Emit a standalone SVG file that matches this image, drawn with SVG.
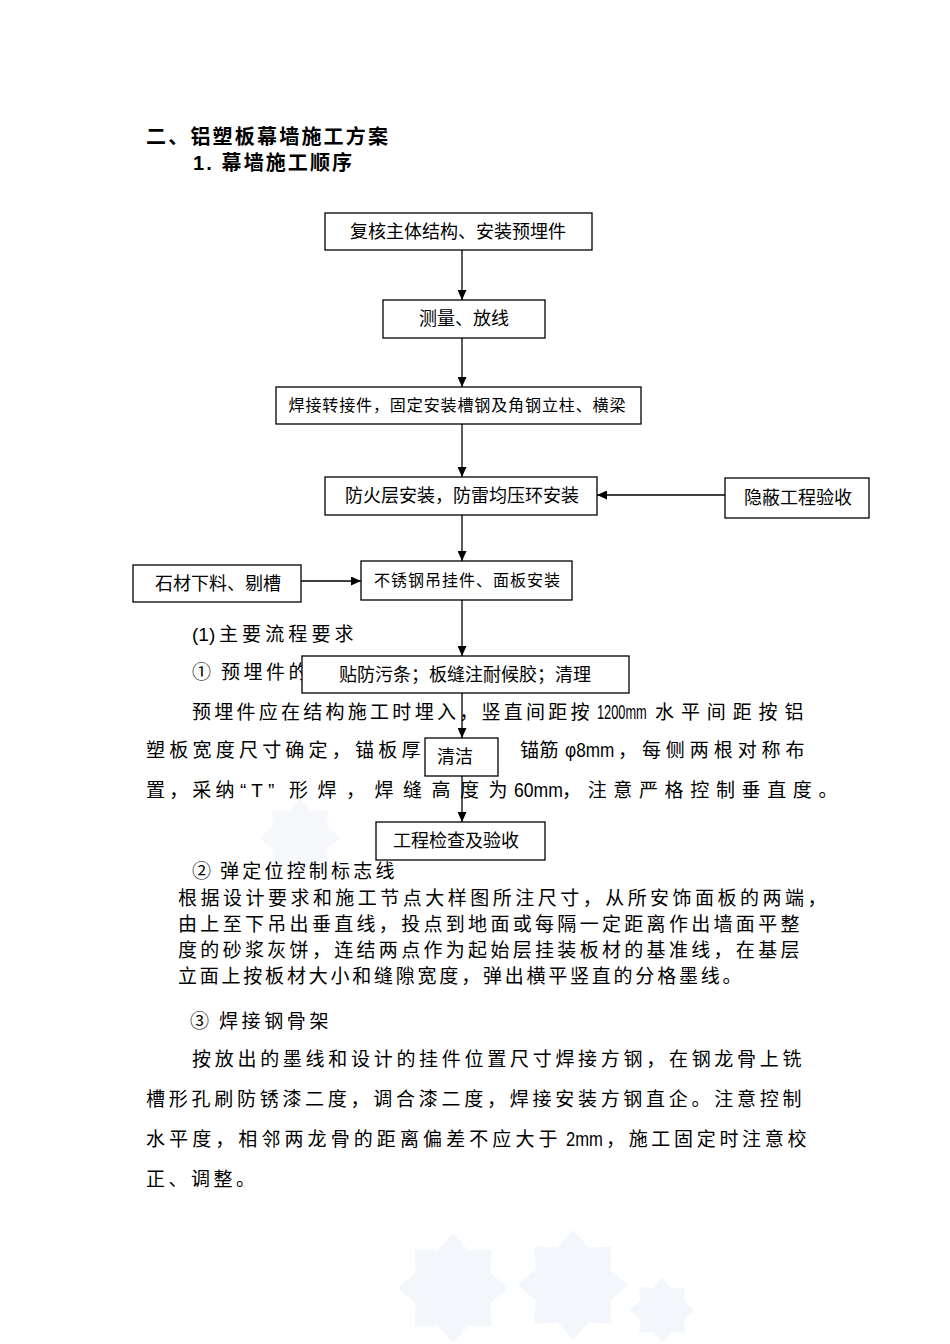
<svg xmlns="http://www.w3.org/2000/svg" width="950" height="1344" viewBox="0 0 950 1344">
<style>
.t{font-family:"Liberation Sans","Noto Sans CJK SC",sans-serif;fill:#000}
.h{font-size:20px;font-weight:700}
.b{font-size:19px;letter-spacing:3.5px}
.l{font-size:20px;font-family:"Liberation Sans",sans-serif}
.n{font-size:18px;text-anchor:middle}
.box{fill:#fff;stroke:#000;stroke-width:1.3}
.c{stroke:#000;stroke-width:1.3;fill:none;marker-end:url(#ah)}
.wm{fill:#f3f6fb}
</style>
<defs>
<marker id="ah" markerUnits="userSpaceOnUse" markerWidth="10" markerHeight="9" refX="10" refY="4.5" orient="auto">
<path d="M0,0 L10,4.5 L0,9 z" fill="#000"/>
</marker>
<g id="flake">
<polygon points="0,-50 14,-34 35,-35 34,-14 50,0 34,14 35,35 14,34 0,50 -14,34 -35,35 -34,14 -50,0 -34,-14 -35,-35 -14,-34"/>
</g>
</defs>
<rect width="950" height="1344" fill="#fff"/>
<g id="watermarks" class="wm">
<use href="#flake" transform="translate(300,838) scale(0.8)" style="fill:#f6f8fc"/>
<use href="#flake" transform="translate(453,1288) scale(1.1)"/>
<use href="#flake" transform="translate(573,1285) scale(1.1)"/>
<use href="#flake" transform="translate(662,1310) scale(0.65)"/>
</g>
<g id="heading">
<text class="t h" x="146" y="144" textLength="242">二、铝塑板幕墙施工方案</text>
<text class="t h" x="193" y="170" textLength="159">1. 幕墙施工顺序</text>
</g>
<g id="body">
<text class="t l" x="192" y="641" style="font-size:19px">(1)</text>
<text class="t b" x="219" y="641" textLength="138">主要流程要求</text>
<text class="t b" x="192" y="679">①</text>
<text class="t b" x="221" y="679">预埋件的</text>
<text class="t b" x="192" y="719" textLength="401">预埋件应在结构施工时埋入，竖直间距按</text>
<text class="t l" transform="translate(597,719) scale(0.64,1)">1200mm</text>
<text class="t b" x="655" y="719" textLength="152">水平间距按铝</text>
<text class="t b" x="146" y="757" textLength="278">塑板宽度尺寸确定，锚板厚</text>
<text class="t b" x="520" y="757" textLength="42">锚筋</text>
<text class="t l" transform="translate(565,757) scale(0.86,1)">φ8mm</text>
<text class="t b" x="618" y="757" textLength="190">，每侧两根对称布</text>
<text class="t b" x="146" y="797" textLength="92">置，采纳</text>
<text class="t l" x="240" y="797" style="font-size:19px;letter-spacing:5px">“T”</text>
<text class="t b" x="289" y="797" textLength="222">形焊，焊缝高度为</text>
<text class="t l" transform="translate(514,797) scale(0.88,1)">60mm</text>
<text class="t b" x="562" y="797" textLength="279">，注意严格控制垂直度。</text>
<text class="t b" x="192" y="878">②</text>
<text class="t b" x="220" y="878" textLength="178">弹定位控制标志线</text>
<text class="t b" x="178" y="905" textLength="652">根据设计要求和施工节点大样图所注尺寸，从所安饰面板的两端，</text>
<text class="t b" x="178" y="931" textLength="625">由上至下吊出垂直线，投点到地面或每隔一定距离作出墙面平整</text>
<text class="t b" x="178" y="957" textLength="625">度的砂浆灰饼，连结两点作为起始层挂装板材的基准线，在基层</text>
<text class="t b" x="178" y="983" textLength="567">立面上按板材大小和缝隙宽度，弹出横平竖直的分格墨线。</text>
<text class="t b" x="190" y="1028">③</text>
<text class="t b" x="219" y="1028" textLength="113">焊接钢骨架</text>
<text class="t b" x="192" y="1066" textLength="613">按放出的墨线和设计的挂件位置尺寸焊接方钢，在钢龙骨上铣</text>
<text class="t b" x="146" y="1106" textLength="659">槽形孔刷防锈漆二度，调合漆二度，焊接安装方钢直企。注意控制</text>
<text class="t b" x="146" y="1146" textLength="415">水平度，相邻两龙骨的距离偏差不应大于</text>
<text class="t l" transform="translate(566,1146) scale(0.83,1)">2mm</text>
<text class="t b" x="606" y="1146" textLength="204">，施工固定时注意校</text>
<text class="t b" x="146" y="1186">正、调整。</text>
</g>
<g id="connectors">
<line class="c" x1="462" y1="250" x2="462" y2="300"/>
<line class="c" x1="462" y1="338" x2="462" y2="387"/>
<line class="c" x1="462" y1="424" x2="462" y2="477"/>
<line class="c" x1="725" y1="495" x2="597" y2="495"/>
<line class="c" x1="462" y1="515" x2="462" y2="561"/>
<line class="c" x1="301" y1="581" x2="361" y2="581"/>
<line class="c" x1="462" y1="600" x2="462" y2="656"/>
<line class="c" x1="462" y1="693" x2="462" y2="738"/>
<line class="c" x1="462" y1="776" x2="462" y2="822"/>
</g>
<g id="n1"><rect class="box" x="325" y="213" width="267" height="37"/><text class="t n" x="458" y="238">复核主体结构、安装预埋件</text></g>
<g id="n2"><rect class="box" x="383" y="300" width="162" height="38"/><text class="t n" x="464" y="325">测量、放线</text></g>
<g id="n3"><rect class="box" x="276" y="387" width="365" height="37"/><text class="t n" x="457" y="411" style="font-size:16px" textLength="337">焊接转接件，固定安装槽钢及角钢立柱、横梁</text></g>
<g id="n4"><rect class="box" x="325" y="477" width="272" height="38"/><text class="t n" x="462" y="502">防火层安装，防雷均压环安装</text></g>
<g id="n5"><rect class="box" x="725" y="478" width="144" height="40"/><text class="t n" x="798" y="504">隐蔽工程验收</text></g>
<g id="n6"><rect class="box" x="361" y="561" width="211" height="39"/><text class="t n" x="467" y="586" style="font-size:16px" textLength="186">不锈钢吊挂件、面板安装</text></g>
<g id="n7"><rect class="box" x="133" y="565" width="168" height="37"/><text class="t n" x="218" y="590">石材下料、剔槽</text></g>
<g id="n8"><rect class="box" x="302" y="656" width="327" height="37"/><text class="t n" x="465" y="681">贴防污条；板缝注耐候胶；清理</text></g>
<g id="n9"><rect class="box" x="425" y="738" width="73" height="38"/><text class="t" x="437" y="763" style="font-size:18px">清洁</text></g>
<g id="n10"><rect class="box" x="376" y="822" width="169" height="38"/><text class="t n" x="456" y="847">工程检查及验收</text></g>
</svg>
